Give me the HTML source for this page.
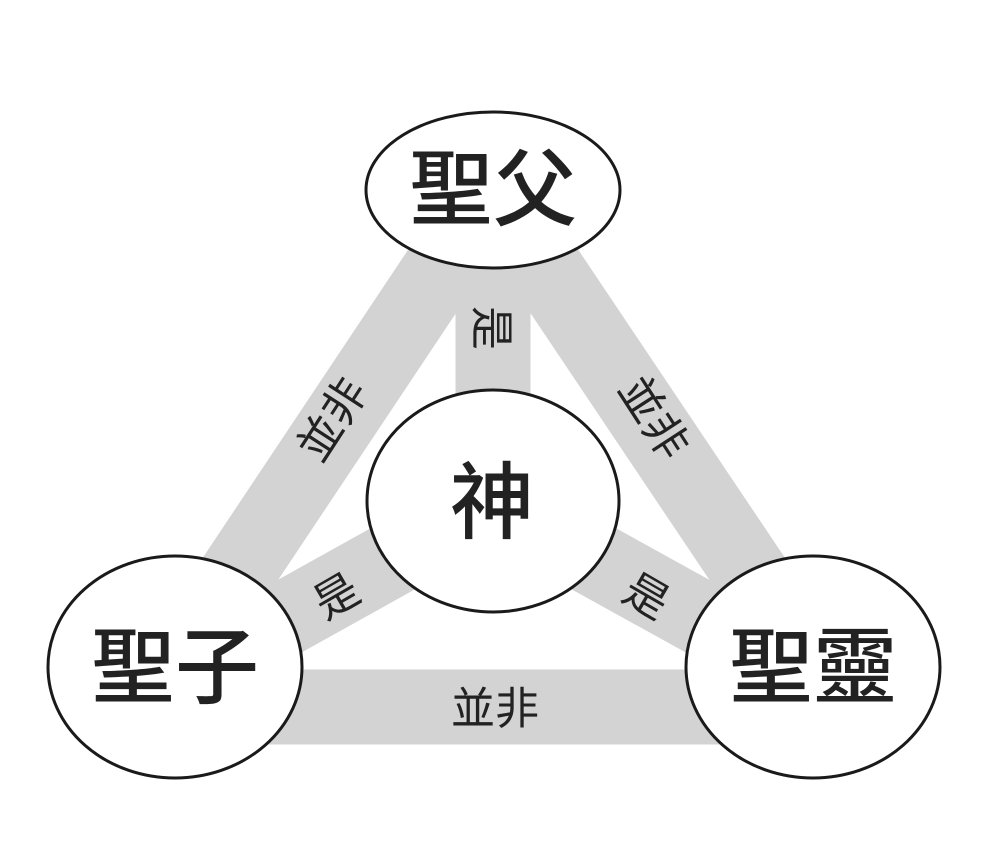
<!DOCTYPE html>
<html><head><meta charset="utf-8"><style>
html,body{margin:0;padding:0;background:#fff;}
svg text{font-family:"Liberation Sans","Noto Sans CJK TC",sans-serif;fill:#222;}
</style></head><body>
<svg width="988" height="849" viewBox="0 0 988 849" xmlns="http://www.w3.org/2000/svg">
<g stroke="#d3d3d3" stroke-width="75" stroke-linecap="butt">
<line x1="493" y1="190" x2="175" y2="667"/>
<line x1="493" y1="190" x2="813" y2="667"/>
<line x1="175" y1="707" x2="813" y2="707"/>
<line x1="493" y1="190" x2="493" y2="500"/>
<line x1="493" y1="503" x2="175" y2="680"/>
<line x1="493" y1="503" x2="813" y2="680"/>
</g>
<g fill="#fff" stroke="#1a1a1a" stroke-width="3">
<ellipse cx="493" cy="190" rx="127" ry="78"/>
<ellipse cx="493" cy="501" rx="126" ry="111"/>
<ellipse cx="175" cy="667" rx="127" ry="111"/>
<ellipse cx="813" cy="667" rx="127" ry="111"/>
</g>
<g font-size="84" font-weight="500" text-anchor="middle">
<text x="493" y="219">聖父</text>
<text x="492" y="532">神</text>
<text x="175" y="697">聖子</text>
<text x="813" y="697">聖靈</text>
</g>
<g font-size="44" text-anchor="middle" dominant-baseline="central">
<text transform="translate(333,420) rotate(-57)">並非</text>
<text transform="translate(653,418) rotate(57)">並非</text>
<text x="495" y="709">並非</text>
<text transform="translate(491,328) rotate(90)">是</text>
<text transform="translate(337,597) rotate(-30)">是</text>
<text transform="translate(646,597) rotate(30)">是</text>
</g>
</svg>
</body></html>
